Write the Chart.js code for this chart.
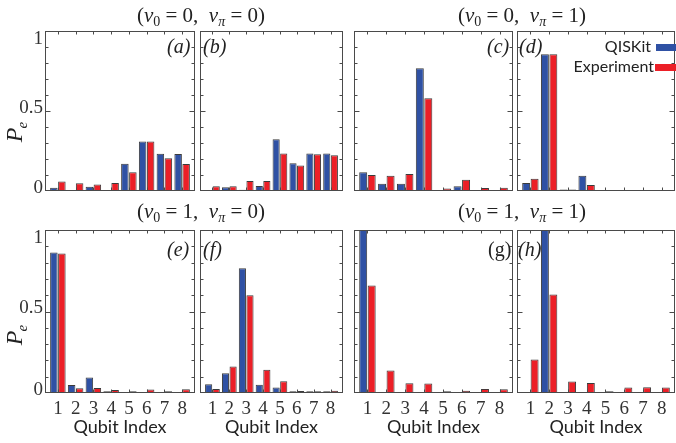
<!DOCTYPE html>
<html>
<head>
<meta charset="utf-8">
<script src="https://cdn.jsdelivr.net/npm/chart.js@4.4.0/dist/chart.umd.min.js"></script>
<style>
body{margin:0;background:#fff;}
#wrap{position:relative;width:676px;height:443px;overflow:hidden;background:#fff;}
#wrap canvas{position:absolute;left:0;top:0;}
.ttl{position:absolute;font-family:"Liberation Serif",serif;font-size:21px;line-height:22px;white-space:nowrap;transform:translate(-50%,-50%);color:#222;}
.ttl sub{font-size:14px;vertical-align:-4px;line-height:0;}
.lab{position:absolute;font-family:"Liberation Serif",serif;font-style:italic;font-size:20px;line-height:20px;color:#222;transform:translateY(-50%);}
.ylab{position:absolute;font-family:"Liberation Serif",serif;font-style:italic;font-size:24px;line-height:24px;color:#222;transform:translate(-50%,-50%) rotate(-90deg);white-space:nowrap;}
.ylab sub{font-size:15px;vertical-align:-5px;line-height:0;margin-left:-1px;}
</style>
</head>
<body>
<div id="wrap">
  <div class="ttl" style="left:201px;top:15px">(<i>ν</i><sub>0</sub> = 0,&nbsp;&nbsp;<i>ν</i><sub><i>π</i></sub> = 0)</div>
  <div class="ttl" style="left:522px;top:15px">(<i>ν</i><sub>0</sub> = 0,&nbsp;&nbsp;<i>ν</i><sub><i>π</i></sub> = 1)</div>
  <div class="ttl" style="left:201px;top:211px">(<i>ν</i><sub>0</sub> = 1,&nbsp;&nbsp;<i>ν</i><sub><i>π</i></sub> = 0)</div>
  <div class="ttl" style="left:522px;top:211px">(<i>ν</i><sub>0</sub> = 1,&nbsp;&nbsp;<i>ν</i><sub><i>π</i></sub> = 1)</div>
  <div class="ylab" style="left:14px;top:132px">P<sub>e</sub></div>
  <div class="ylab" style="left:14px;top:335px">P<sub>e</sub></div>
  <div class="lab" style="left:167px;top:46px">(a)</div>
  <div class="lab" style="left:203px;top:46px">(b)</div>
  <div class="lab" style="left:487px;top:46px">(c)</div>
  <div class="lab" style="left:519px;top:46px">(d)</div>
  <div class="lab" style="left:167px;top:249px">(e)</div>
  <div class="lab" style="left:203px;top:249px">(f)</div>
  <div class="lab" style="left:488px;top:249px;font-style:normal">(g)</div>
  <div class="lab" style="left:518px;top:249px">(h)</div>
</div>
<script>
// data
const qubits = ['1', '2', '3', '4', '5', '6', '7', '8']
const seriesNames = ['QISKit', 'Experiment']

const qisA = [0.02, 0.005, 0.027, 0.004, 0.17, 0.31, 0.233, 0.231]
const expA = [0.06, 0.048, 0.04, 0.05, 0.117, 0.31, 0.204, 0.169]
const qisB = [0.005, 0.023, 0.008, 0.031, 0.323, 0.173, 0.235, 0.235]
const expB = [0.03, 0.03, 0.063, 0.063, 0.235, 0.16, 0.229, 0.223]
const qisC = [0.117, 0.046, 0.046, 0.767, 0.004, 0.029, 0.004, 0.004]
const expC = [0.10, 0.096, 0.106, 0.579, 0.015, 0.071, 0.019, 0.021]
const qisD = [0.05, 0.854, 0.01, 0.096, 0.003, 0.003, 0.003, 0.003]
const expD = [0.077, 0.854, 0.01, 0.038, 0.003, 0.006, 0.003, 0.003]
const qisE = [0.862, 0.049, 0.095, 0.01, 0.004, 0.004, 0.004, 0.004]
const expE = [0.856, 0.029, 0.031, 0.019, 0.01, 0.021, 0.01, 0.023]
const qisF = [0.054, 0.121, 0.765, 0.051, 0.033, 0.01, 0.01, 0.01]
const expF = [0.025, 0.163, 0.599, 0.142, 0.072, 0.012, 0.01, 0.014]
const qisG = [1.0, 0.002, 0.002, 0.002, 0.002, 0.002, 0.002, 0.002]
const expG = [0.66, 0.138, 0.06, 0.058, 0.01, 0.014, 0.025, 0.023]
const qisH = [0.004, 1.0, 0.006, 0.006, 0.006, 0.006, 0.006, 0.006]
const expH = [0.206, 0.604, 0.07, 0.062, 0.01, 0.033, 0.035, 0.033]

const W = 676, H = 443
const BLUE = '#2f51a4'
const RED = '#ec1f27'
const EDGE = '#3b3b3b'
const FRAME = '#4a4a4a'
const SIDE_PAD = 4      // gap between frame and first/last bar group
const XAXIS_H = 47
const YAXIS_W = 44

// frame boxes [left, top, right, bottom]
const panels = [
    {qis: qisA, exp: expA, frame: [45, 31, 195, 191], row: 0, yLabels: true},
    {qis: qisB, exp: expB, frame: [200, 31, 343, 191], row: 0},
    {qis: qisC, exp: expC, frame: [354, 31, 513, 191], row: 0},
    {qis: qisD, exp: expD, frame: [517, 31, 675, 191], row: 0, legend: true},
    {qis: qisE, exp: expE, frame: [45, 230, 195, 393], row: 1, yLabels: true},
    {qis: qisF, exp: expF, frame: [200, 230, 343, 393], row: 1},
    {qis: qisG, exp: expG, frame: [354, 230, 513, 393], row: 1},
    {qis: qisH, exp: expH, frame: [517, 230, 675, 393], row: 1}
]

// Mathematica-like frame with inward ticks
const framePlugin = {
    id: 'frameTicks',
    afterDatasetsDraw(chart) {
        const ctx = chart.ctx
        const a = chart.chartArea
        const xs = chart.scales.x, ys = chart.scales.y
        const l = Math.round(a.left - SIDE_PAD) + 0.5
        const r = Math.round(a.right + SIDE_PAD) - 0.5
        const t = Math.round(a.top) + 0.5
        const b = Math.round(a.bottom) - 0.5
        ctx.save()
        ctx.strokeStyle = FRAME
        ctx.lineWidth = 1
        ctx.beginPath()
        for (let i = 1; i < 10; i++) {
            let py = Math.round(ys.getPixelForValue(i / 10)) + 0.5
            let len = (i == 5) ? 5 : 3
            ctx.moveTo(l, py); ctx.lineTo(l + len, py)
            ctx.moveTo(r, py); ctx.lineTo(r - len, py)
        }
        for (let i = 0; i < qubits.length; i++) {
            let px = Math.round(xs.getPixelForValue(i)) + 0.5
            ctx.moveTo(px, t); ctx.lineTo(px, t + 3)
            ctx.moveTo(px, b); ctx.lineTo(px, b - 3)
        }
        ctx.stroke()
        ctx.strokeRect(l, t, r - l, b - t)
        ctx.restore()
    }
}

const legendPlugin = {
    id: 'sideLegend',
    afterDraw(chart) {
        const ctx = chart.ctx
        const rows = [{tx: 651, y: 47, sx: 656, sy: 44}, {tx: 654, y: 67, sx: 655, sy: 64}]
        ctx.save()
        ctx.font = '16px Lato'
        ctx.textAlign = 'right'
        ctx.textBaseline = 'middle'
        chart.data.datasets.forEach((ds, i) => {
            ctx.fillStyle = '#222'
            ctx.fillText(ds.label, rows[i].tx, rows[i].y)
            ctx.fillStyle = ds.backgroundColor
            ctx.fillRect(rows[i].sx, rows[i].sy, W - rows[i].sx, 7)
        })
        ctx.restore()
    }
}

const wrap = document.getElementById('wrap')

function makePanel(p) {
    const cv = document.createElement('canvas')
    cv.width = W
    cv.height = H
    wrap.insertBefore(cv, wrap.firstChild)
    const [fl, ft, fr, fb] = p.frame
    const bottomRow = p.row == 1
    const yw = p.yLabels ? YAXIS_W : 0
    let plugins = [framePlugin]
    if (p.legend) plugins.push(legendPlugin)
    new Chart(cv, {
        type: 'bar',
        data: {
            labels: qubits,
            datasets: [
                {label: seriesNames[0], data: p.qis, backgroundColor: BLUE, borderColor: EDGE, borderWidth: 1},
                {label: seriesNames[1], data: p.exp, backgroundColor: RED, borderColor: EDGE, borderWidth: 1}
            ]
        },
        options: {
            responsive: false,
            animation: false,
            devicePixelRatio: 1,
            layout: {
                padding: {
                    left: fl + SIDE_PAD - yw,
                    right: W - fr + SIDE_PAD,
                    top: ft,
                    bottom: H - fb - (bottomRow ? XAXIS_H : 0)
                }
            },
            datasets: {bar: {categoryPercentage: 0.9, barPercentage: 0.94}},
            plugins: {legend: {display: false}, tooltip: {enabled: false}},
            scales: {
                x: {
                    display: bottomRow,
                    grid: {display: false, drawTicks: false},
                    border: {display: false},
                    ticks: {color: '#333', padding: 5, maxRotation: 0, font: {family: 'Liberation Serif', size: 19}},
                    title: {display: true, text: 'Qubit Index', color: '#222', padding: {top: 0, bottom: 2},
                            font: {family: 'Lato', size: 18}},
                    afterFit: s => {
                        if (bottomRow) s.height = XAXIS_H
                        s.paddingLeft = 0
                        s.paddingRight = 0
                    }
                },
                y: {
                    display: !!p.yLabels,
                    min: 0,
                    max: 1,
                    grid: {display: false, drawTicks: false},
                    border: {display: false},
                    ticks: {
                        stepSize: 0.5, color: '#333', padding: 6, labelOffset: -3,
                        font: {family: 'Liberation Serif', size: 19},
                        // the top label sits a bit below the frame corner in the original
                        callback: v => v == 1 ? ['', '1'] : String(v)
                    },
                    afterFit: s => {
                        if (p.yLabels) s.width = YAXIS_W
                        s.paddingTop = 0
                        s.paddingBottom = 0
                    }
                }
            }
        },
        plugins: plugins
    })
}

panels.forEach(makePanel)
</script>
</body>
</html>
